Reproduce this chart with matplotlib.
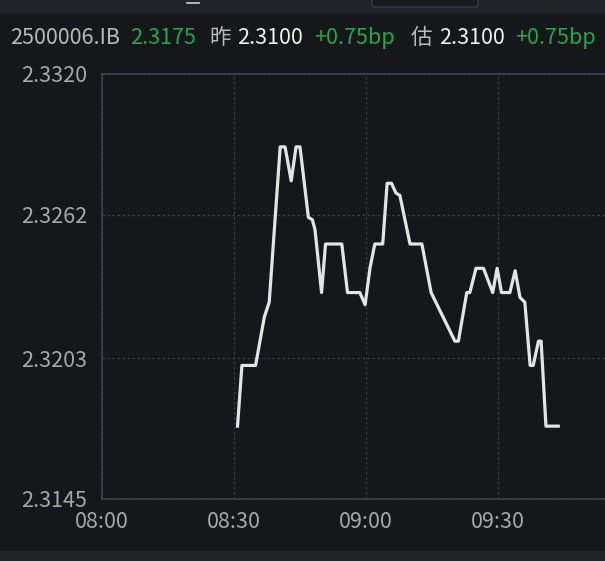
import matplotlib.pyplot as plt
import matplotlib.patches as mpatches

plt.rcParams['font.family'] = ['Noto Sans CJK SC', 'DejaVu Sans']

# minutes since 08:00 and yield values
minutes = [30.8, 31.8, 34.9, 36.9, 38.0, 40.5, 41.6, 43.0, 44.1, 45.0,
           46.9, 47.8, 48.4, 49.9, 50.8, 54.5, 55.8, 58.6, 59.8, 60.9,
           62.0, 63.8, 64.8, 65.8, 66.8, 67.7, 70.0, 72.7, 74.8, 80.2,
           81.0, 82.9, 83.6, 85.0, 86.7, 88.8, 89.8, 90.8, 92.7, 93.9,
           95.0, 96.1, 97.3, 98.0, 99.2, 99.8, 100.9, 103.7]
values = [2.3175, 2.3200, 2.3200, 2.3220, 2.3226, 2.3290, 2.3290, 2.3276, 2.3290, 2.3290,
          2.3261, 2.3260, 2.3256, 2.3230, 2.3250, 2.3250, 2.3230, 2.3230, 2.3225, 2.3240,
          2.3250, 2.3250, 2.3275, 2.3275, 2.3271, 2.3270, 2.3250, 2.3250, 2.3230, 2.3210,
          2.3210, 2.3230, 2.3230, 2.3240, 2.3240, 2.3230, 2.3240, 2.3230, 2.3230, 2.3239,
          2.3228, 2.3226, 2.3200, 2.3200, 2.3210, 2.3210, 2.3175, 2.3175]

x_ticks = [0, 30, 60, 90]
x_labels = ['08:00', '08:30', '09:00', '09:30']
y_ticks = [2.3145, 2.3203, 2.3262, 2.3320]
y_labels = ['2.3145', '2.3203', '2.3262', '2.3320']

# header: (text, colour, left x in px)
header = [('2500006.IB', '#b9b9b9', 10), ('2.3175', '#22a84a', 130),
          ('昨', '#b9b9b9', 209), ('2.3100', '#f2f2f2', 237),
          ('+0.75bp', '#22a84a', 314), ('估', '#b9b9b9', 411),
          ('2.3100', '#f2f2f2', 439), ('+0.75bp', '#22a84a', 515)]

W, H = 605, 561
bg = '#16171b'
grid_c = '#3a3c42'
label_c = '#a8a8a8'

fig = plt.figure(figsize=(W / 100, H / 100), dpi=100)
fig.patch.set_facecolor(bg)

# top and bottom strips of the app window
fig.add_artist(mpatches.Rectangle((0, 1 - 12 / H), 1, 12 / H, transform=fig.transFigure,
                                  color='#222328', zorder=0))
fig.add_artist(mpatches.Rectangle((0, 0), 1, 10 / H, transform=fig.transFigure,
                                  color='#222328', zorder=0))
fig.add_artist(mpatches.FancyBboxPatch((372 / W, 1 - 7 / H), 106 / W, 10 / H,
                                       boxstyle='round,pad=0,rounding_size=0.004',
                                       transform=fig.transFigure, facecolor='#1a1b1f',
                                       edgecolor='#3a3c42', lw=1))
fig.add_artist(plt.Line2D([187 / W, 199 / W], [1 - 2.5 / H, 1 - 2.5 / H],
                          transform=fig.transFigure, color='#cfcfcf', lw=1.2))

for txt, col, xpx in header:
    fig.text(xpx / W, 1 - 38 / H, txt, color=col, fontsize=15.5, ha='left', va='center')

ax = fig.add_axes([102 / W, 62 / H, (W - 102) / W, 425 / H])
ax.set_facecolor(bg)
ax.plot(minutes, values, color='#e4e4e4', lw=2.3, solid_joinstyle='round')

ax.set_xlim(0, (W - 102) / 132 * 30)
ax.set_ylim(2.3145, 2.3320)
ax.set_xticks(x_ticks)
ax.set_xticklabels(x_labels)
ax.set_yticks(y_ticks)
ax.set_yticklabels(y_labels)
ax.tick_params(length=0, colors=label_c, labelsize=15.5)
ax.tick_params(axis='x', pad=9)
ax.tick_params(axis='y', pad=11)

ax.grid(True, color=grid_c, linestyle=(0, (2, 2)), lw=0.9)
for side in ['left', 'bottom', 'top']:
    ax.spines[side].set_color('#40434a')
    ax.spines[side].set_linewidth(1.2)
ax.spines['right'].set_visible(False)

# next tick label, cut by the window edge
ax.text(120, -0.048, '10:00', transform=ax.get_xaxis_transform(), color=label_c,
        fontsize=15.5, ha='center', va='top', clip_on=False)

fig.savefig('out.png', dpi=100, facecolor=bg)
